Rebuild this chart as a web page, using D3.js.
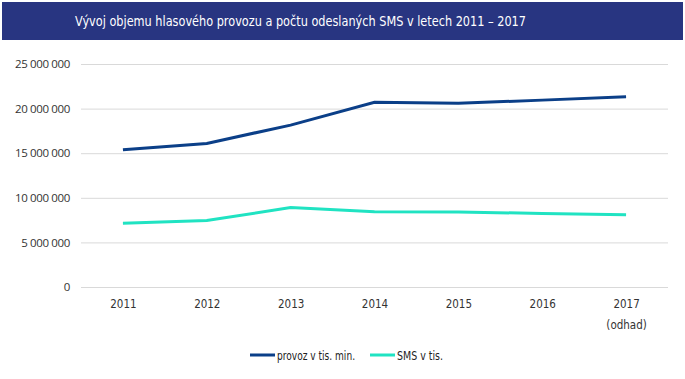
<!DOCTYPE html>
<html><head><meta charset="utf-8">
<script src="https://cdn.jsdelivr.net/npm/d3@7"></script>
<style>
body{margin:0;background:#fff;}
svg{display:block;}
.cond{font-family:"DejaVu Sans Condensed","Roboto",sans-serif;}
</style></head>
<body>
<svg id="c" width="685" height="379"></svg>
<script>
const title = "Vývoj objemu hlasového provozu a počtu odeslaných SMS v letech 2011 – 2017";
const years = ["2011","2012","2013","2014","2015","2016","2017"];
const yearSub = ["","","","","","","(odhad)"];
const provoz = [15400000, 16100000, 18150000, 20700000, 20600000, 20950000, 21330000];
const sms = [7150000, 7450000, 8900000, 8450000, 8400000, 8250000, 8100000];
const yTicks = [0, 5000000, 10000000, 15000000, 20000000, 25000000];
const seriesNames = ["provoz v tis. min.", "SMS v tis."];
const colors = ["#0b3f88", "#20e3c2"];

const svg = d3.select("#c");
svg.append("rect").attr("x",2).attr("y",2).attr("width",681).attr("height",38).attr("fill","#283581");
svg.append("text").attr("class","cond").attr("x",75).attr("y",26).attr("fill","#fff")
  .attr("font-size",14).attr("textLength",451).attr("lengthAdjust","spacingAndGlyphs").text(title);

const x = d3.scalePoint().domain(years).range([81,668]).padding(0.5);
const y = d3.scaleLinear().domain([0,25000000]).range([287,64]);
const fmt = v => d3.format(",")(v).replace(/,/g," ");

const yAxis = d3.axisLeft(y).tickValues(yTicks).tickSize(-(668-81)).tickFormat(fmt).tickPadding(11);
const gy = svg.append("g").attr("transform","translate(81,0)").call(yAxis);
gy.select(".domain").remove();
gy.selectAll("line").attr("stroke","#d9d9d9").attr("stroke-width",1);
gy.selectAll("text").attr("font-family","'Open Sans',sans-serif").attr("font-size",11.5).attr("fill","#333").attr("letter-spacing","-0.35");

const xAxis = d3.axisBottom(x).tickSize(0).tickPadding(13);
const gx = svg.append("g").attr("transform","translate(0,287)").call(xAxis);
gx.select(".domain").remove();
gx.selectAll("text").attr("class","cond").attr("font-family",null).attr("font-size",11.5).attr("fill","#333");
gx.selectAll(".tick").each(function(d,i){
  if(yearSub[i]) d3.select(this).append("text").attr("class","cond").attr("y",42).attr("text-anchor","middle")
    .attr("font-size",11.5).attr("fill","#333").text(yearSub[i]);
});

const line = d3.line().x((d,i)=>x(years[i])).y(d=>y(d));
[provoz, sms].forEach((s,k)=>{
  svg.append("path").datum(s).attr("d",line).attr("fill","none").attr("stroke",colors[k]).attr("stroke-width",3);
});

const leg = [{x:250, w:78},{x:370, w:46}];
seriesNames.forEach((n,k)=>{
  const g = svg.append("g").attr("transform",`translate(${leg[k].x},355)`);
  g.append("line").attr("x1",0).attr("x2",25).attr("stroke",colors[k]).attr("stroke-width",3);
  g.append("text").attr("class","cond").attr("x",27).attr("y",4.5).attr("font-size",12.5).attr("fill","#222")
    .attr("textLength",leg[k].w).attr("lengthAdjust","spacingAndGlyphs").text(n);
});
</script>
</body></html>
